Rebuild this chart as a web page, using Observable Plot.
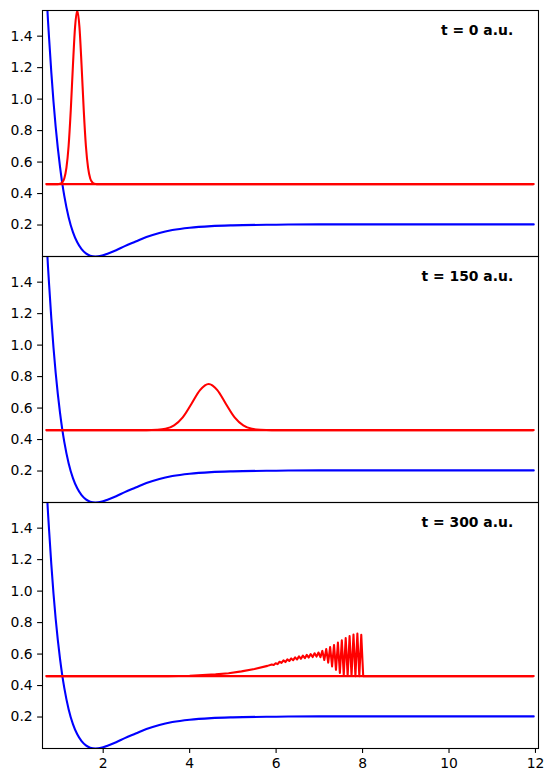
<!DOCTYPE html>
<html>
<head>
<meta charset="utf-8">
<script src="https://cdn.jsdelivr.net/npm/d3@7"></script>
<script src="https://cdn.jsdelivr.net/npm/@observablehq/plot@0.6"></script>
<style>
  html, body { margin: 0; padding: 0; background: white; }
  #chart { width: 553px; height: 782px; }
</style>
</head>
<body>
<div id="chart"></div>
<script>
// ---- data ----
const times = [0, 150, 300];
const timeLabels = ["t = 0 a.u.", "t = 150 a.u.", "t = 300 a.u."];
const xTicks = [2, 4, 6, 8, 10, 12];
const yTicks = [0.2, 0.4, 0.6, 0.8, 1.0, 1.2, 1.4];
const energyLevel = 0.46;
const gridEnds = [0.685, 11.96];

// potential curve (blue)
const potR = [0.685, 0.70, 0.75, 0.80, 0.85, 0.90, 0.95, 1.00, 1.05, 1.10, 1.20, 1.30, 1.40, 1.50, 1.60, 1.70, 1.82, 1.95, 2.10, 2.30, 2.50, 2.75, 3.00, 3.30, 3.60, 4.00, 4.50, 5.00, 6.00, 7.00, 8.00, 10.0, 11.96];
const potV = [1.72, 1.62, 1.38, 1.17, 0.985, 0.826, 0.69, 0.572, 0.471, 0.385, 0.25, 0.155, 0.09, 0.047, 0.02, 0.005, 0, 0.004, 0.018, 0.04, 0.066, 0.095, 0.124, 0.150, 0.168, 0.183, 0.193, 0.198, 0.202, 0.204, 0.204, 0.204, 0.204];

// wave packet, t = 0
const packet0R = [0.685, 0.95, 1.00, 1.05, 1.10, 1.15, 1.20, 1.25, 1.30, 1.35, 1.40, 1.45, 1.50, 1.55, 1.60, 1.65, 1.70, 1.75, 1.80, 1.85, 11.96];
const packet0V = [0.46, 0.46, 0.462, 0.471, 0.496, 0.564, 0.702, 0.93, 1.214, 1.461, 1.563, 1.461, 1.214, 0.93, 0.702, 0.564, 0.496, 0.471, 0.462, 0.46, 0.46];

// wave packet, t = 150
const packet150R = [0.685, 3.0, 3.24, 3.44, 3.64, 3.84, 4.04, 4.24, 4.44, 4.64, 4.84, 5.04, 5.24, 5.44, 5.64, 5.9, 11.96];
const packet150V = [0.46, 0.46, 0.462, 0.468, 0.490, 0.541, 0.626, 0.714, 0.753, 0.714, 0.626, 0.541, 0.490, 0.468, 0.462, 0.46, 0.46];

// wave packet, t = 300 (smooth rise, then oscillating front)
const packet300R = [0.685, 3.5, 4.0, 4.3, 4.6, 4.9, 5.2, 5.5, 5.8,
  5.900, 5.945, 5.990, 6.035, 6.080, 6.125, 6.170, 6.215, 6.260, 6.305,
  6.350, 6.395, 6.440, 6.485, 6.530, 6.575, 6.620, 6.665, 6.710, 6.755,
  6.800, 6.845, 6.890, 6.935, 6.980, 7.025, 7.070, 7.115, 7.160, 7.205,
  7.250, 7.295, 7.340, 7.385, 7.430, 7.475, 7.520, 7.565, 7.610, 7.655,
  7.700, 7.745, 7.790, 7.835, 7.880, 7.925, 7.970, 8.015, 8.1, 11.96];
const packet300V = [0.46, 0.46, 0.462, 0.466, 0.471, 0.478, 0.49, 0.505, 0.525,
  0.534, 0.531, 0.542, 0.536, 0.551, 0.544, 0.560, 0.549, 0.566, 0.556,
  0.572, 0.561, 0.579, 0.566, 0.585, 0.570, 0.590, 0.574, 0.595, 0.578,
  0.600, 0.581, 0.605, 0.584, 0.610, 0.580, 0.620, 0.562, 0.632, 0.545,
  0.645, 0.522, 0.658, 0.500, 0.673, 0.480, 0.688, 0.468, 0.702, 0.463,
  0.714, 0.461, 0.724, 0.460, 0.731, 0.460, 0.722, 0.460, 0.46, 0.46];

// ---- tables built from the arrays ----
const rows = (xs, ys, t) => xs.map((x, i) => ({x, y: ys[i], t}));
const blueRows = times.flatMap(t => rows(potR, potV, t));
const smoothPacketRows = [...rows(packet0R, packet0V, 0), ...rows(packet150R, packet150V, 150)];
const frontPacketRows = rows(packet300R, packet300V, 300);
const energyRows = times.map(t => ({t, y: energyLevel, x1: gridEnds[0], x2: gridEnds[1]}));
const labelRows = times.map((t, i) => ({t, label: timeLabels[i]}));

const lw = 2.08;

const chart = Plot.plot({
  width: 553,
  height: 782,
  marginLeft: 42,
  marginRight: 15,
  marginTop: 9,
  marginBottom: 34,
  style: {fontFamily: "DejaVu Sans", fontSize: "13.9px", color: "black", background: "white"},
  x: {domain: [0.596, 12.07]},
  y: {domain: [0, 1.563]},
  fy: {domain: times, padding: 0, axis: null},
  marks: [
    Plot.line(blueRows, {x: "x", y: "y", fy: "t", stroke: "blue", strokeWidth: lw, curve: "monotone-x", clip: true}),
    Plot.ruleY(energyRows, {y: "y", x1: "x1", x2: "x2", fy: "t", stroke: "red", strokeWidth: lw, clip: true}),
    Plot.line(smoothPacketRows, {x: "x", y: "y", z: "t", fy: "t", stroke: "red", strokeWidth: lw, curve: "monotone-x", clip: true}),
    Plot.line(frontPacketRows, {x: "x", y: "y", fy: "t", stroke: "red", strokeWidth: lw, clip: true}),
    Plot.frame({stroke: "black", strokeWidth: 1.1}),
    Plot.axisY({ticks: yTicks, tickFormat: d3.format(".1f"), tickSize: 4.9, tickPadding: 4.9, label: null, strokeWidth: 1.1}),
    Plot.axisX({ticks: xTicks, tickFormat: d3.format("d"), tickSize: 4.9, tickPadding: 4.9, label: null, strokeWidth: 1.1}),
    Plot.text(labelRows, {fy: "t", text: "label", frameAnchor: "top-right", textAnchor: "end", lineAnchor: "top", dx: -25.3, dy: 14.8, fontWeight: "bold", fontSize: 13.9, fill: "black"})
  ]
});
document.getElementById("chart").appendChild(chart);
</script>
</body>
</html>
